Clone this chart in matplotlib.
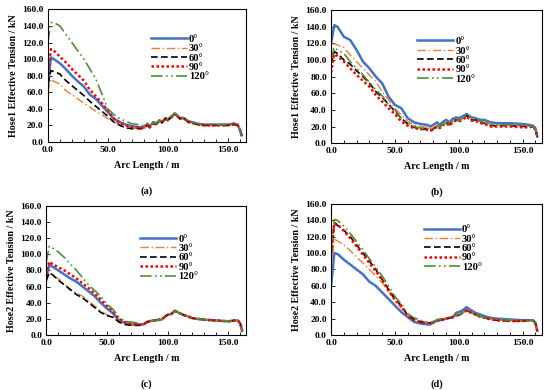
import numpy as np
import matplotlib
matplotlib.use("Agg")
import matplotlib.pyplot as plt

plt.rcParams['font.family'] = ['Liberation Serif', 'DejaVu Serif']
plt.rcParams['font.weight'] = 'bold'

# arc length grid (m)
arc = [0, 2.5, 5, 10, 15, 20, 25, 30, 35, 40, 45, 50, 55, 60, 65, 70, 75,
       78, 80, 83, 85, 88, 90, 93, 95, 98, 100, 103, 106, 110, 113, 117, 120,
       125, 130, 140, 150, 155, 158, 160, 161.5]

angles = ['0°', '30°', '60°', '90°', '120°']

# (a) Hose1 effective tension (kN)
a_0 = [65, 102, 100, 95, 88, 80, 73, 67, 57, 52, 44, 36, 28, 24, 21, 19, 18,
       18, 18, 22, 19, 24, 22, 26, 24, 29, 27, 31, 34, 29, 29, 25, 24,
       22, 21, 21, 21, 22, 21, 15, 8]
a_30 = [60, 76, 73, 70, 62, 57, 52, 47, 42, 37, 33, 28, 24, 21, 19, 17, 16,
        16, 15, 21, 18, 23, 21, 25, 23, 28, 26, 30, 33, 28, 28, 24, 23,
        21, 20, 20, 20, 21, 20, 15, 8]
a_60 = [70, 86, 85, 82, 74, 68, 62, 56, 49, 43, 37, 31, 24, 20, 17, 16, 16,
        16, 17, 20, 17, 22, 21, 25, 23, 28, 26, 30, 34, 28, 29, 24, 23,
        21, 20, 20, 20, 21, 20, 15, 8]
a_90 = [80, 112, 110, 103, 96, 88, 81, 74, 63, 55, 47, 38, 28, 23, 20, 18, 17,
        17, 17, 21, 18, 23, 21, 26, 23, 28, 26, 30, 35, 28, 29, 24, 23,
        21, 20, 20, 20, 22, 21, 15, 8]
a_120 = [120, 144, 144, 140, 130, 120, 110, 100, 88, 76, 58, 40, 33, 28, 25, 22, 21,
         20, 20, 22, 21, 23, 22, 26, 24, 29, 27, 31, 35, 29, 29, 25, 24,
         22, 21, 21, 21, 22, 21, 15, 8]

# (b) Hose1 effective tension (kN)
b_0 = [120, 142, 140, 128, 124, 112, 98, 90, 80, 72, 56, 46, 42, 30, 25, 23, 22,
       20, 22, 25, 22, 26, 28, 25, 29, 31, 30, 32, 35, 31, 30, 28, 28,
       25, 24, 24, 23, 22, 21, 18, 8]
b_30 = [100, 120, 118, 115, 106, 98, 90, 82, 74, 62, 52, 42, 34, 26, 22, 20, 19,
        18, 18, 22, 20, 24, 26, 23, 27, 29, 28, 30, 34, 29, 29, 26, 26,
        23, 22, 22, 21, 21, 20, 17, 8]
b_60 = [95, 110, 108, 100, 95, 87, 80, 72, 62, 55, 47, 38, 30, 23, 19, 17, 17,
        16, 17, 21, 19, 23, 25, 22, 26, 28, 27, 29, 33, 28, 28, 25, 24,
        21, 21, 21, 20, 20, 20, 17, 8]
b_90 = [85, 107, 105, 98, 90, 82, 75, 68, 58, 50, 42, 35, 26, 21, 18, 17, 16,
        15, 16, 20, 18, 22, 24, 21, 25, 27, 26, 28, 32, 27, 27, 24, 23,
        20, 20, 20, 19, 19, 20, 16, 8]
b_120 = [100, 115, 112, 108, 98, 90, 82, 73, 64, 57, 46, 40, 30, 24, 20, 18, 18,
         17, 18, 21, 19, 23, 25, 22, 26, 28, 27, 30, 34, 29, 29, 26, 25,
         22, 22, 22, 21, 21, 20, 17, 8]

# (c) Hose2 effective tension (kN)
c_0 = [70, 87, 85, 80, 75, 70, 66, 60, 54, 48, 40, 33, 27, 18, 15, 13, 13,
       13, 13, 16, 17, 18, 18, 19, 19, 23, 25, 26, 30, 27, 25, 23, 21,
       20, 19, 18, 17, 18, 18, 14, 5]
c_30 = [65, 77, 74, 70, 63, 57, 52, 48, 42, 36, 30, 25, 23, 16, 14, 12, 12,
        13, 13, 16, 17, 18, 18, 19, 19, 23, 25, 26, 30, 27, 25, 23, 21,
        20, 19, 18, 17, 18, 18, 14, 5]
c_60 = [68, 77, 75, 68, 62, 56, 50, 46, 40, 34, 28, 24, 22, 16, 13, 12, 12,
        12, 13, 16, 17, 18, 18, 19, 19, 23, 25, 26, 30, 27, 25, 23, 21,
        20, 19, 18, 17, 18, 18, 14, 5]
c_90 = [75, 91, 88, 84, 80, 75, 70, 64, 58, 51, 44, 36, 29, 20, 16, 14, 13,
        13, 13, 16, 17, 18, 18, 19, 19, 23, 25, 26, 30, 27, 25, 23, 21,
        20, 19, 18, 17, 18, 18, 14, 5]
c_120 = [90, 110, 108, 103, 96, 88, 80, 71, 62, 55, 48, 38, 32, 22, 17, 16, 15,
         14, 14, 17, 17, 18, 18, 19, 19, 23, 25, 26, 30, 27, 25, 23, 21,
         20, 19, 18, 17, 18, 18, 14, 5]

# (d) Hose2 effective tension (kN)
d_0 = [60, 100, 99, 92, 86, 80, 74, 65, 60, 52, 44, 36, 28, 22, 16, 14, 13,
       13, 16, 17, 18, 19, 20, 21, 21, 27, 28, 30, 34, 30, 27, 25, 23,
       21, 20, 19, 18, 18, 18, 15, 5]
d_30 = [80, 117, 115, 110, 103, 95, 88, 80, 72, 64, 54, 42, 33, 25, 20, 17, 15,
        15, 16, 18, 19, 20, 20, 21, 22, 24, 25, 27, 31, 27, 25, 23, 21,
        20, 19, 18, 17, 18, 18, 15, 5]
d_60 = [100, 136, 134, 128, 120, 110, 100, 90, 80, 68, 56, 44, 36, 24, 19, 16, 15,
        15, 16, 18, 19, 19, 20, 21, 22, 24, 24, 27, 30, 27, 25, 22, 21,
        19, 18, 17, 17, 18, 18, 15, 5]
d_90 = [95, 137, 135, 127, 118, 108, 98, 88, 78, 67, 54, 43, 35, 23, 18, 16, 14,
        14, 15, 18, 19, 19, 20, 21, 22, 24, 24, 27, 30, 27, 25, 22, 21,
        19, 18, 17, 17, 18, 18, 15, 5]
d_120 = [105, 141, 140, 133, 124, 114, 104, 93, 83, 72, 60, 47, 38, 26, 21, 18, 16,
         15, 16, 19, 19, 20, 20, 21, 22, 24, 25, 27, 31, 27, 25, 23, 21,
         20, 19, 18, 17, 18, 18, 15, 5]

# line styles for the five angles
colors = ['#4472C4', '#ED7D31', '#000000', '#FF0000', '#4F8F2F']
styles = ['-', (0, (6, 2, 1, 2)), (0, (4, 2)), (0, (1, 1)), (0, (7, 2, 1, 2, 1, 2))]
widths = [1.8, 1.0, 1.2, 1.8, 1.2]

panels = [
    ([0.087, 0.636, 0.360, 0.340], [a_0, a_30, a_60, a_90, a_120], 'Hose1', (0.52, 0.81), '(a)'),
    ([0.602, 0.633, 0.383, 0.341], [b_0, b_30, b_60, b_90, b_120], 'Hose1', (0.41, 0.80), '(b)'),
    ([0.084, 0.141, 0.364, 0.331], [c_0, c_30, c_60, c_90, c_120], 'Hose2', (0.47, 0.78), '(c)'),
    ([0.602, 0.141, 0.383, 0.336], [d_0, d_30, d_60, d_90, d_120], 'Hose2', (0.44, 0.84), '(d)'),
]

fig = plt.figure(figsize=(5.5, 3.9), dpi=100)

for rect, series, hose, legpos, tag in panels:
    ax = fig.add_axes(rect)
    for i in range(5):
        ax.plot(arc, series[i], color=colors[i], linestyle=styles[i],
                linewidth=widths[i], label=angles[i])
    ax.set_xlim(0, 165)
    ax.set_ylim(0, 160)
    ax.set_xticks([0, 50, 100, 150])
    ax.set_xticks(np.arange(0, 165, 10), minor=True)
    ax.set_yticks(np.arange(0, 161, 20))
    ax.set_xticklabels(['%.1f' % v for v in [0, 50, 100, 150]])
    ax.set_yticklabels(['%.1f' % v for v in np.arange(0, 161, 20)])
    ax.tick_params(direction='in', labelsize=6.8, length=3, width=0.6, pad=3)
    ax.tick_params(which='minor', direction='in', length=2, width=0.6)
    for lbl in ax.get_xticklabels() + ax.get_yticklabels():
        lbl.set_fontweight('bold')
    for sp in ax.spines.values():
        sp.set_linewidth(0.8)
    ax.set_xlabel('Arc Length / m', fontsize=7.2, fontweight='bold', labelpad=5)
    ax.set_ylabel(hose + ' Effective Tension / kN', fontsize=7.2, fontweight='bold', labelpad=3)
    ax.legend(loc='upper left', bbox_to_anchor=legpos, frameon=False,
              handlelength=3.4, handletextpad=0.2,
              labelspacing=0.0, borderpad=0, borderaxespad=0,
              prop={'weight': 'bold', 'size': 7.6})
    fig.text(rect[0] + rect[2] / 2, rect[1] - 0.125, tag, ha='center', va='center',
             fontsize=7.5)

fig.savefig('out.png', dpi=100)
